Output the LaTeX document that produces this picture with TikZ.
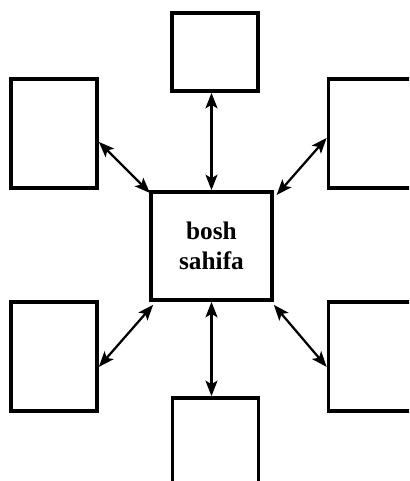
\documentclass[tikz,border=0pt]{standalone}
\usepackage{fontspec}
\setmainfont{Liberation Serif}
\usepackage{tikz}
\usetikzlibrary{arrows.meta, positioning, calc}

\begin{document}
\begin{tikzpicture}[
    x=0.025cm, y=-0.025cm,
    page/.style={draw, line width=2.6pt, minimum width=2.15cm, minimum height=2.725cm, inner sep=0pt},
    home/.style={draw, line width=2.6pt, minimum width=3.025cm, minimum height=2.7cm, align=center, font=\fontsize{18}{21.5}\selectfont\bfseries},
    link/.style={{Stealth[length=11pt, width=8.5pt, inset=2.5pt]}-{Stealth[length=11pt, width=8.5pt, inset=2.5pt]}, line width=1.6pt}
]
    \useasboundingbox (0,0) rectangle (409,481);
    \clip (0,0) rectangle (409,481);

    % Main page
    \node[home] (main) at (211.5, 246) {bosh\\sahifa};

    % Pages around it
    \node[page, minimum height=1.95cm] (top) at (215, 52) {};
    \node[page] (lefttop) at (54, 133.5) {};
    \node[page] (righttop) at (371.5, 133.5) {};
    \node[page] (leftbot) at (54, 356.5) {};
    \node[page] (rightbot) at (371.5, 356.5) {};
    \node[page] (bottom) at (215.5, 452.5) {};

    % Links
    \draw[link] (main.north) -- (main.north |- top.south);
    \draw[link] (main.south) -- (main.south |- bottom.north);
    \draw[link] ([yshift=-0.21cm]lefttop.east) -- ([shift={(0.02cm,-0.07cm)}]main.north west);
    \draw[link] ([yshift=-0.11cm]righttop.west) -- ([shift={(0.07cm,-0.12cm)}]main.north east);
    \draw[link] ([yshift=-0.26cm]leftbot.east) -- ([shift={(0.1cm,-0.075cm)}]main.south west);
    \draw[link] ([yshift=-0.26cm]rightbot.west) -- ([yshift=-0.075cm]main.south east);

\end{tikzpicture}
\end{document}
